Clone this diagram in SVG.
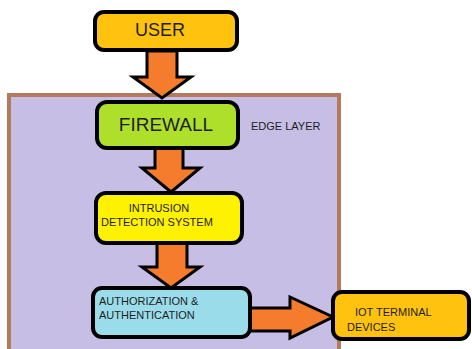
<svg xmlns="http://www.w3.org/2000/svg" width="472" height="349" viewBox="0 0 472 349">
<style>
.box{stroke:#000;stroke-width:4}
.arrow{fill:#F47C2C;stroke:#000;stroke-width:3;stroke-linejoin:miter}
text{font-family:"Liberation Sans",Arial,sans-serif;fill:#1e1e1e}
.big{font-size:18px}
.small{font-size:11px}
</style>
<rect width="472" height="349" fill="#fff"/>
<g id="edge-layer">
<rect x="9" y="95" width="330" height="260" fill="#C6BEE4" stroke="#B47A5C" stroke-width="4"/>
<text class="small" x="251" y="130">EDGE LAYER</text>
</g>
<g id="connectors">
<polygon class="arrow" points="147,51 177,51 177,77 191,77 162,98 133,77 147,77"/>
<polygon class="arrow" points="155,148 183,148 183,168 200,168 171,192 142,168 155,168"/>
<polygon class="arrow" points="157,243 187,243 187,267 200,267 171,288 142,267 157,267"/>
<polygon class="arrow" points="250,308 290,308 290,297 333,317 290,338 290,331 250,331"/>
</g>
<g id="user">
<rect class="box" x="95" y="12" width="142" height="38" rx="9" fill="#FFC20E"/>
<text class="big" x="160" y="36" text-anchor="middle">USER</text>
</g>
<g id="firewall">
<rect class="box" x="97" y="102" width="141" height="46" rx="10" fill="#AEE02B"/>
<text x="166" y="131" text-anchor="middle" font-size="19">FIREWALL</text>
</g>
<g id="ids">
<rect class="box" x="96" y="193" width="146" height="50" rx="10" fill="#FFF200"/>
<text class="small" x="159" y="212" text-anchor="middle">INTRUSION</text>
<text class="small" x="101" y="226">DETECTION SYSTEM</text>
</g>
<g id="auth">
<rect class="box" x="93" y="288" width="157" height="49" rx="9" fill="#9BDCEA"/>
<text class="small" x="99" y="305">AUTHORIZATION &amp;</text>
<text class="small" x="99" y="319">AUTHENTICATION</text>
</g>
<g id="iot">
<rect class="box" x="333" y="292" width="136" height="47" rx="9" fill="#FFC20E"/>
<text class="small" x="355" y="316">IOT TERMINAL</text>
<text class="small" x="347" y="331">DEVICES</text>
</g>
</svg>
